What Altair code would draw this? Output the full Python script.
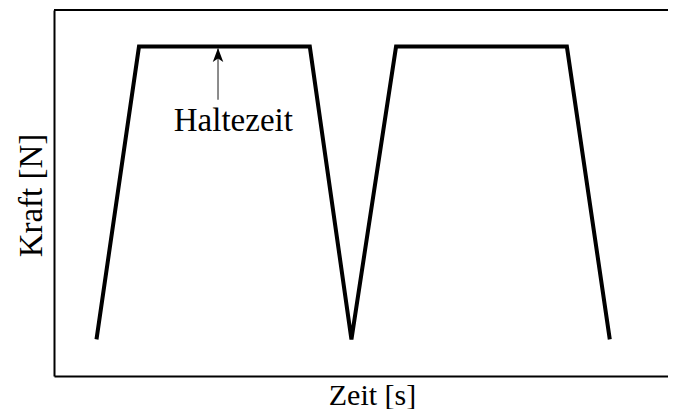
import altair as alt
import pandas as pd

# Force profile (time, force)
zeit = [1, 2, 6.02, 7.0, 8.05, 12.07, 13.08]
kraft = [1, 9, 9, 1, 9, 9, 1]

# Annotation "Haltezeit"
arrow_x = [3.86]
arrow_y_start = [7.55]
arrow_y_tip = [8.96]
label_text = ["Haltezeit"]
label_x = [4.22]
label_y = [6.69]

x_domain = [0, 14.45]
y_domain = [0, 10]

FONT = "Liberation Serif"

line_df = pd.DataFrame({"Zeit": zeit, "Kraft": kraft})
arrow_df = pd.DataFrame({"x": arrow_x, "y": arrow_y_start, "y2": arrow_y_tip})
tip_df = pd.DataFrame({"x": arrow_x, "y": arrow_y_tip})
label_df = pd.DataFrame({"x": label_x, "y": label_y, "t": label_text})

xs = alt.Scale(domain=x_domain, nice=False, zero=False)
ys = alt.Scale(domain=y_domain, nice=False, zero=False)

line = alt.Chart(line_df).mark_line(
    color="black", strokeWidth=4, strokeJoin="miter", strokeCap="butt"
).encode(
    x=alt.X("Zeit:Q", scale=xs, title="Zeit [s]",
            axis=alt.Axis(labels=False, ticks=False, grid=False, domainColor="black",
                          domainWidth=2, titleFont=FONT, titleFontSize=30,
                          titleFontWeight="normal", titleColor="black",
                          titleAlign="center", titleBaseline="alphabetic",
                          titleX=318, titleY=28)),
    y=alt.Y("Kraft:Q", scale=ys, title="Kraft [N]",
            axis=alt.Axis(labels=False, ticks=False, grid=False, domainColor="black",
                          domainWidth=2, titleFont=FONT, titleFontSize=33,
                          titleFontWeight="normal", titleColor="black",
                          titleAlign="center", titleBaseline="alphabetic",
                          titleAngle=270, titleX=-13, titleY=185)),
)

top_border = alt.Chart(pd.DataFrame({"v": [y_domain[1]]})).mark_rule(
    color="black", strokeWidth=2
).encode(y=alt.Y("v:Q", scale=ys))

shaft = alt.Chart(arrow_df).mark_rule(color="#666666", strokeWidth=1.5).encode(
    x=alt.X("x:Q", scale=xs), y=alt.Y("y:Q", scale=ys), y2="y2:Q"
)

tip = alt.Chart(tip_df).mark_point(
    shape="M0,0 L0.75,2 L0,1.5 L-0.75,2 Z", filled=True, color="black",
    size=196, opacity=1, strokeWidth=0
).encode(x=alt.X("x:Q", scale=xs), y=alt.Y("y:Q", scale=ys))

label = alt.Chart(label_df).mark_text(
    font=FONT, fontSize=33, color="black", align="center", baseline="alphabetic"
).encode(x=alt.X("x:Q", scale=xs), y=alt.Y("y:Q", scale=ys), text="t:N")

chart = alt.layer(top_border, line, shaft, tip, label).properties(
    width=614, height=366,
    padding={"left": 46, "top": 2, "right": 0, "bottom": 33},
    autosize=alt.AutoSizeParams(type="none"),
    background="white",
).configure_view(stroke="transparent", strokeWidth=0)

chart.save("out.html", embed_options={"renderer": "svg", "actions": False})
